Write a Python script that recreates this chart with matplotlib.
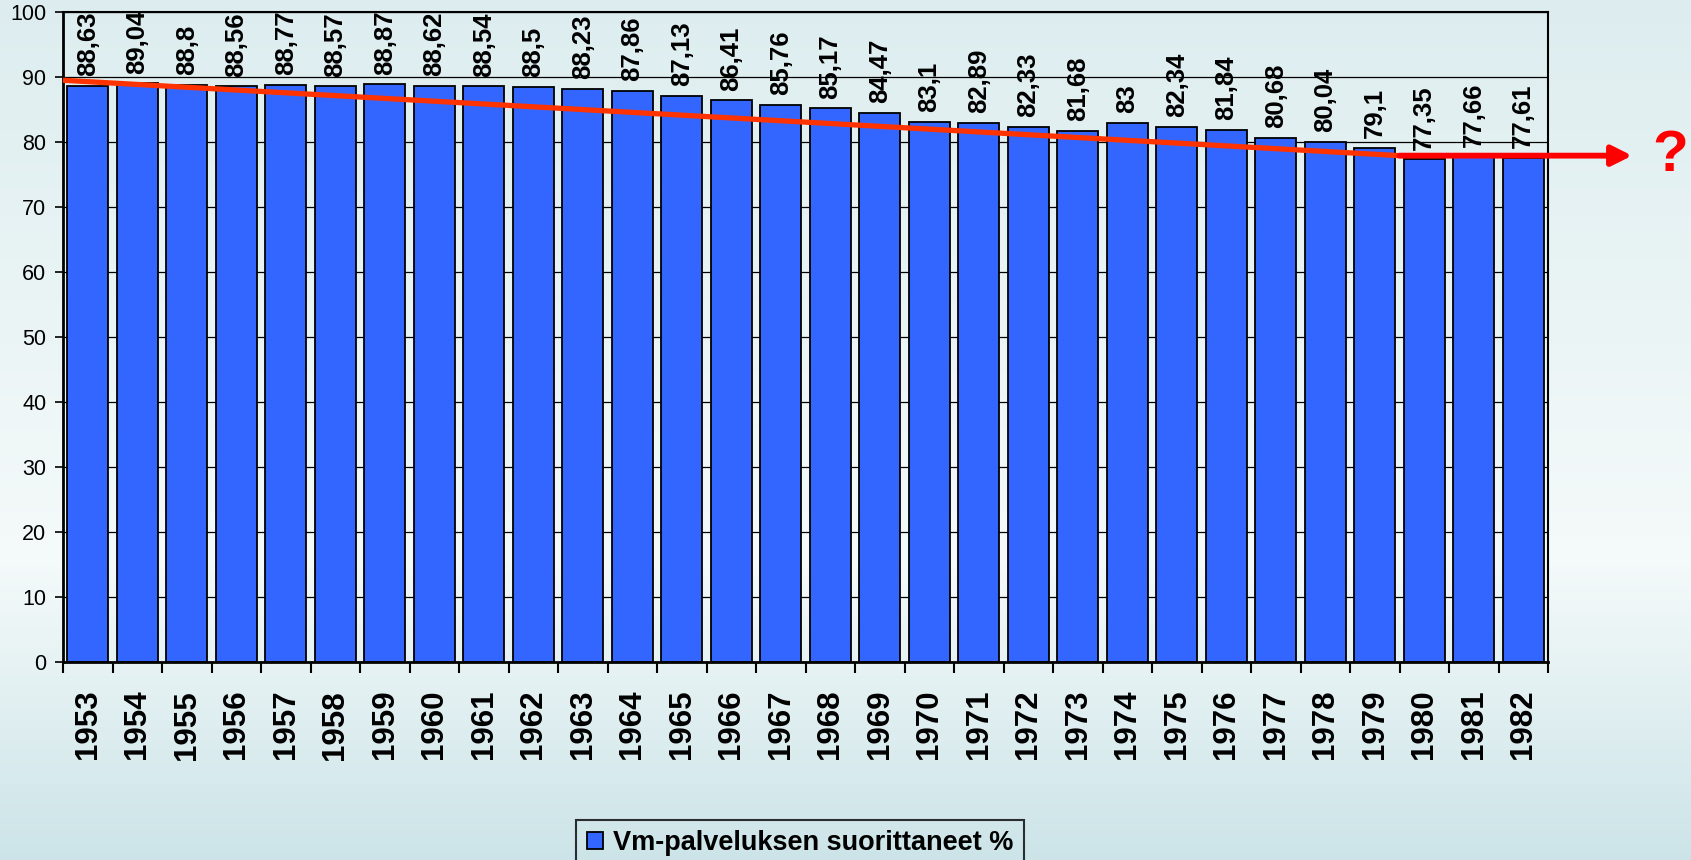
import numpy as np
import matplotlib.pyplot as plt
from matplotlib.colors import to_rgb

plt.rcParams["font.family"] = ["Liberation Sans", "DejaVu Sans"]

years = list(range(1953, 1983))
values = [88.63, 89.04, 88.8, 88.56, 88.77, 88.57, 88.87, 88.62, 88.54, 88.5,
          88.23, 87.86, 87.13, 86.41, 85.76, 85.17, 84.47, 83.1, 82.89, 82.33,
          81.68, 83, 82.34, 81.84, 80.68, 80.04, 79.1, 77.35, 77.66, 77.61]
labels = [f"{v:g}".replace(".", ",") for v in values]

# trend line (start / end in category units) and arrow continuation
trend_x = [-0.5, 26.5]
trend_y = [89.5, 77.9]
arrow_end_x = 31.2

fig = plt.figure(figsize=(16.91, 8.60), dpi=100)

# background gradient
bg = fig.add_axes([0, 0, 1, 1], zorder=-10)
stops = [(0.0, "#ddedef"), (0.65, "#f5fafa"), (1.0, "#cce4e8")]
t = np.linspace(0, 1, 400)
grad = np.zeros((400, 1, 3))
for c in range(3):
    grad[:, 0, c] = np.interp(t, [s[0] for s in stops], [to_rgb(s[1])[c] for s in stops])
bg.imshow(grad, aspect="auto", extent=[0, 1, 0, 1])
bg.axis("off")

ax = fig.add_axes([63 / 1691, 1 - 662 / 860, (1548 - 63) / 1691, 650 / 860])
ax.set_facecolor("none")

x = np.arange(len(years))
bars = ax.bar(x, values, width=0.82, color="#3366ff", edgecolor="black",
              linewidth=1.3, label="Vm-palveluksen suorittaneet %", zorder=2)

for xi, v, lab in zip(x, values, labels):
    ax.annotate(lab, (xi, v), xytext=(0, 7), textcoords="offset points",
                rotation=90, ha="center", va="bottom", fontsize=18.5,
                fontweight="bold", annotation_clip=False, zorder=5)

ax.plot(trend_x, trend_y, color="#ff3300", linewidth=3.8, zorder=4,
        solid_capstyle="butt", clip_on=False)
ax.annotate("", xy=(arrow_end_x, trend_y[-1]), xytext=(trend_x[-1], trend_y[-1]),
            arrowprops=dict(arrowstyle="-|>,head_length=0.6,head_width=0.3",
                            color="#ff0000", lw=4.2, mutation_scale=20,
                            shrinkA=0, shrinkB=0),
            annotation_clip=False, zorder=4)
ax.text(arrow_end_x + 0.76, trend_y[-1], "?", color="#ff0000", fontsize=42,
        fontweight="bold", ha="center", va="center", clip_on=False)

ax.set_xlim(-0.5, len(years) - 0.5)
ax.set_ylim(0, 100)
ax.set_yticks(range(0, 101, 10))
ax.tick_params(axis="y", labelsize=15.5, length=6, width=1.2, pad=6)
ax.set_xticks(x)
ax.set_xticklabels(years, rotation=90, fontsize=22.5, fontweight="bold")
ax.tick_params(axis="x", which="major", length=0, pad=20)
ax.set_xticks(np.arange(-0.5, len(years), 1), minor=True)
ax.tick_params(axis="x", which="minor", length=8, width=1.5)
ax.yaxis.grid(True, color="black", linewidth=0.9)
ax.set_axisbelow(True)
for side, sp in ax.spines.items():
    sp.set_linewidth(1.5 if side in ("top", "right") else 2)

leg = fig.legend(handles=[bars], loc="upper center",
                 bbox_to_anchor=(800 / 1691, 1 - 806 / 860),
                 prop={"weight": "bold", "size": 19.5}, frameon=True,
                 fancybox=False, handlelength=0.6, handleheight=0.6,
                 handletextpad=0.35, borderpad=0.4)
frame = leg.get_frame()
frame.set_facecolor("none")
frame.set_edgecolor("black")
frame.set_linewidth(1.5)

fig.savefig("out.png", dpi=100)
